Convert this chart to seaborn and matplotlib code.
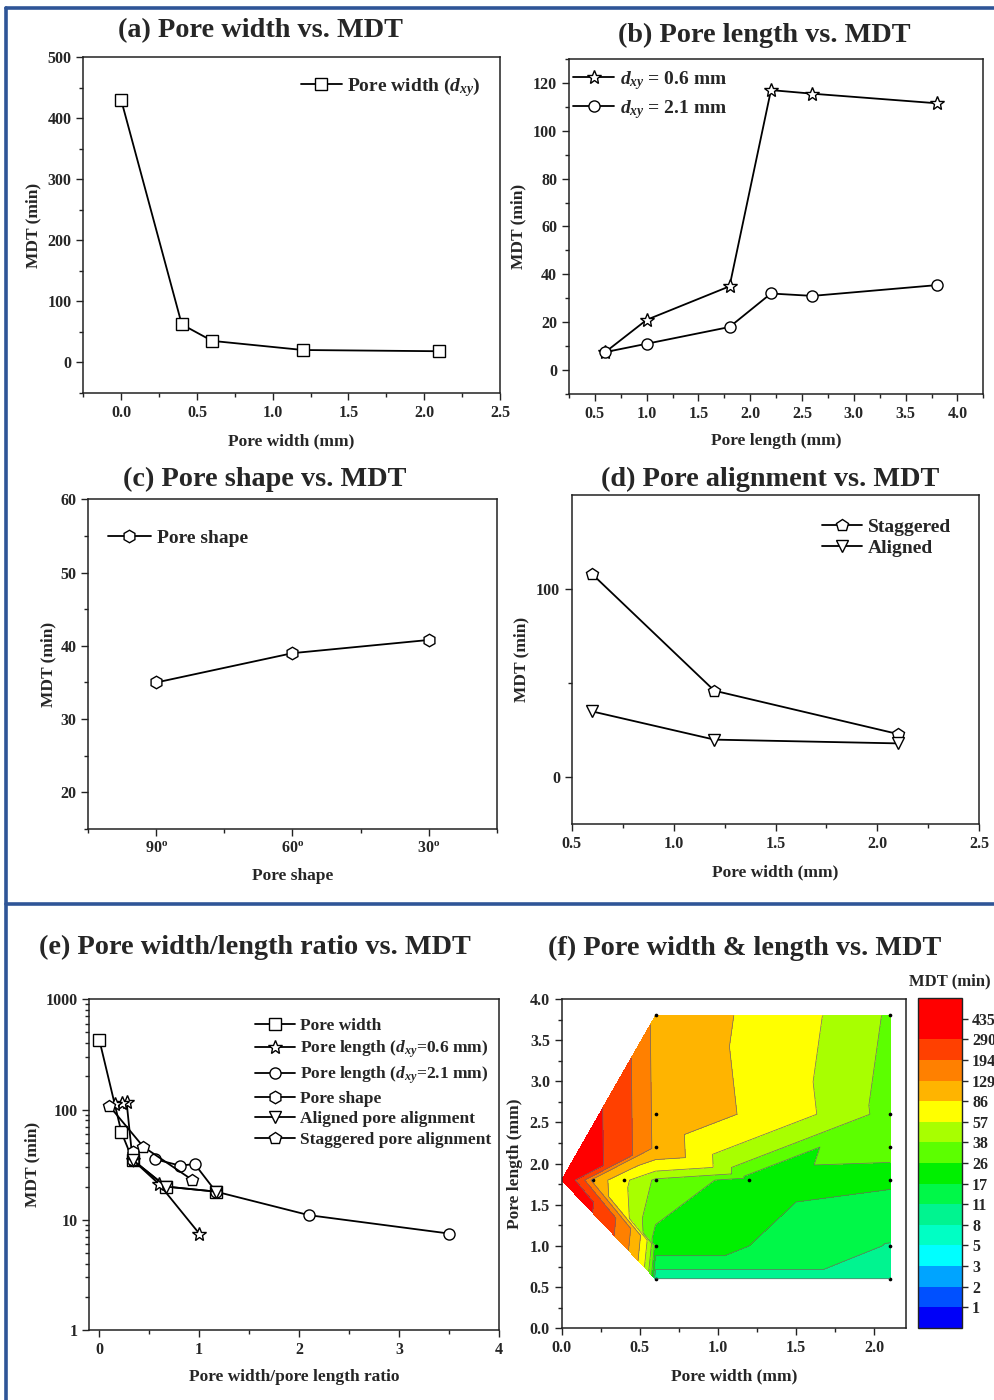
import numpy as np
import pandas as pd
import matplotlib
matplotlib.use('Agg')
import matplotlib.pyplot as plt
import seaborn as sns
from matplotlib.ticker import MultipleLocator, FixedLocator, NullFormatter, LogLocator
from matplotlib.lines import Line2D

# ---------------- data ----------------
a_width = [0.0, 0.4, 0.6, 1.2, 2.1]
a_mdt = [430, 62, 35, 20, 18]

b_length = [0.6, 1.0, 1.8, 2.2, 2.6, 3.8]
b_mdt_06 = [7.5, 21, 35, 117, 115.5, 111.5]
b_mdt_21 = [7.5, 11, 18, 32, 31, 35.5]

c_shape = ['90$^{\\mathbf{o}}$', '60$^{\\mathbf{o}}$', '30$^{\\mathbf{o}}$']
c_mdt = [35, 39, 40.8]

d_width = [0.6, 1.2, 2.1]
d_staggered = [108, 46, 23]
d_aligned = [35, 20, 18]

e_width_ratio = [0.0, 0.222, 0.333, 0.667, 1.167]
e_width_mdt = [430, 62, 35, 20, 18]
e_len06_ratio = [1.0, 0.6, 0.333, 0.273, 0.231, 0.158]
e_len06_mdt = [7.5, 21, 35, 117, 115.5, 111.5]
e_len21_ratio = [3.5, 2.1, 1.167, 0.955, 0.808, 0.553]
e_len21_mdt = [7.5, 11, 18, 32, 31, 35.5]
e_shape_ratio = [0.333, 0.333, 0.333]
e_shape_mdt = [35, 39, 40.8]
e_aligned_ratio = [0.333, 0.667, 1.167]
e_aligned_mdt = [35, 20, 18]
e_stag_ratio = [0.1, 0.44, 0.93]
e_stag_mdt = [108, 46, 23]

f_width = [0.0, 0.2, 0.4, 0.6, 1.2, 2.1, 0.6, 0.6, 0.6, 0.6, 0.6, 2.1, 2.1, 2.1, 2.1, 2.1]
f_length = [1.8, 1.8, 1.8, 1.8, 1.8, 1.8, 0.6, 1.0, 2.2, 2.6, 3.8, 0.6, 1.0, 2.2, 2.6, 3.8]
f_mdt = [430, 108, 62, 35, 20, 18, 7.5, 21, 117, 115.5, 111.5, 7.5, 11, 32, 31, 35.5]
f_levels = [0.5, 1.49, 2.24, 3.36, 5.04, 7.56, 11.34, 17.01, 25.52, 38.28,
            57.42, 86.13, 129.2, 193.8, 290.7, 436, 654]
f_tick_labels = ['1', '2', '3', '5', '8', '11', '17', '26', '38', '57',
                 '86', '129', '194', '290', '435']
f_colors = ['#0000F8', '#0050FF', '#00A4FF', '#00FFFF', '#00FFC4', '#00F490',
            '#00F848', '#00F000', '#5CFF00', '#A8FF00', '#FFFF00', '#FFB400',
            '#FF8000', '#FF4000', '#FF0000', '#FF0000']

# ---------------- style ----------------
sns.set_theme(style='ticks')
plt.rcParams.update({
    'font.family': ['Liberation Serif', 'DejaVu Serif'],
    'font.weight': 'bold',
    'axes.labelweight': 'bold',
    'mathtext.fontset': 'custom',
    'mathtext.rm': 'Liberation Serif:bold',
    'mathtext.it': 'Liberation Serif:italic:bold',
    'mathtext.bf': 'Liberation Serif:bold',
    'axes.edgecolor': '#222222',
    'axes.linewidth': 1.1,
})

W, H = 994, 1400
fig = plt.figure(figsize=(W / 100, H / 100), dpi=100)
fig.patch.set_facecolor('white')

TICK = 11.5
LAB = 12.5


def add_ax(l, t, r, b):
    return fig.add_axes([l / W, 1 - b / H, (r - l) / W, (b - t) / H])


def style(ax, box, xlab, ylab, xl_cy, yl_cx):
    l, t, r, b = box
    ax.tick_params(which='both', direction='out', top=False, right=False,
                   labelsize=TICK, width=1.0, color='#222222')
    ax.tick_params(which='major', length=5)
    ax.tick_params(which='minor', length=3)
    for s in ax.spines.values():
        s.set_visible(True)
        s.set_linewidth(1.1)
    ax.set_xlabel(xlab, fontsize=LAB, fontweight='bold')
    ax.set_ylabel(ylab, fontsize=LAB, fontweight='bold')
    ax.xaxis.set_label_coords(0.5, (b - (xl_cy - 8)) / (b - t))
    ax.yaxis.set_label_coords(((yl_cx + 8) - l) / (r - l), 0.5)
    ax.grid(False)


def line(ax, x, y, marker, label, ms=8):
    sns.lineplot(x=x, y=y, ax=ax, color='black', marker=marker, markersize=ms,
                 markerfacecolor='white', markeredgecolor='black',
                 markeredgewidth=1.0, linewidth=1.3, label=label,
                 sort=False, estimator=None, legend=False)


def legend(ax, anchor, fs, spacing, hl=2.0):
    ax.legend(loc='upper left', bbox_to_anchor=anchor, frameon=False,
              labelspacing=spacing, handlelength=hl,
              handletextpad=0.3, borderaxespad=0, borderpad=0,
              prop={'weight': 'bold', 'size': fs})


# ---------------- (a) ----------------
box_a = (83.3, 57.3, 500, 392.7)
ax = add_ax(*box_a)
line(ax, a_width, a_mdt, 's', 'Pore width ($d_{xy}$)')
ax.set_xlim(-0.25, 2.5)
ax.set_ylim(-50, 500)
ax.xaxis.set_major_locator(FixedLocator([0, 0.5, 1.0, 1.5, 2.0, 2.5]))
ax.xaxis.set_minor_locator(MultipleLocator(0.25))
ax.yaxis.set_major_locator(FixedLocator([0, 100, 200, 300, 400, 500]))
ax.yaxis.set_minor_locator(MultipleLocator(50))
ax.set_xticklabels(['0.0', '0.5', '1.0', '1.5', '2.0', '2.5'])
style(ax, box_a, 'Pore width (mm)', 'MDT (min)', 441, 33)
legend(ax, (0.522, 0.948), 14, 0.3, hl=2.1)

# ---------------- (b) ----------------
box_b = (569, 59, 983.3, 394)
ax = add_ax(*box_b)
line(ax, b_length, b_mdt_06, '*', '$d_{xy}$ = 0.6 mm', ms=10.5)
line(ax, b_length, b_mdt_21, 'o', '$d_{xy}$ = 2.1 mm')
ax.set_xlim(0.25, 4.25)
ax.set_ylim(-10, 130)
ax.xaxis.set_major_locator(FixedLocator(np.arange(0.5, 4.01, 0.5)))
ax.set_xticklabels(['0.5', '1.0', '1.5', '2.0', '2.5', '3.0', '3.5', '4.0'])
ax.xaxis.set_minor_locator(MultipleLocator(0.25))
ax.yaxis.set_major_locator(FixedLocator(np.arange(0, 121, 20)))
ax.yaxis.set_minor_locator(MultipleLocator(10))
style(ax, box_b, 'Pore length (mm)', 'MDT (min)', 441, 518)
legend(ax, (0.01, 0.97), 14, 0.3, hl=2.1)

# ---------------- (c) ----------------
box_c = (88.3, 499.3, 496.7, 829)
ax = add_ax(*box_c)
line(ax, c_shape, c_mdt, 'h', 'Pore shape', ms=9)
ax.set_xlim(-0.5, 2.5)
ax.set_ylim(15, 60)
ax.xaxis.set_minor_locator(MultipleLocator(0.5))
ax.yaxis.set_major_locator(FixedLocator([20, 30, 40, 50, 60]))
ax.yaxis.set_minor_locator(MultipleLocator(5))
style(ax, box_c, 'Pore shape', 'MDT (min)', 876, 48)
legend(ax, (0.048, 0.91), 14, 0.3, hl=2.2)

# ---------------- (d) ----------------
box_d = (571.7, 495, 979.3, 824.3)
ax = add_ax(*box_d)
line(ax, d_width, d_staggered, 'p', 'Staggered', ms=9)
line(ax, d_width, d_aligned, 'v', 'Aligned', ms=9)
ax.set_xlim(0.5, 2.5)
ax.set_ylim(-25, 150)
ax.xaxis.set_major_locator(FixedLocator([0.5, 1.0, 1.5, 2.0, 2.5]))
ax.set_xticklabels(['0.5', '1.0', '1.5', '2.0', '2.5'])
ax.xaxis.set_minor_locator(MultipleLocator(0.25))
ax.yaxis.set_major_locator(FixedLocator([0, 100]))
ax.yaxis.set_minor_locator(FixedLocator([50]))
style(ax, box_d, 'Pore width (mm)', 'MDT (min)', 872, 521)
legend(ax, (0.613, 0.93), 14, 0.2, hl=2.1)

# ---------------- (e) ----------------
box_e = (89.3, 999.3, 499, 1330)
ax = add_ax(*box_e)
line(ax, e_width_ratio, e_width_mdt, 's', 'Pore width')
line(ax, e_len06_ratio, e_len06_mdt, '*', 'Pore length ($d_{xy}$=0.6 mm)', ms=10.5)
line(ax, e_len21_ratio, e_len21_mdt, 'o', 'Pore length ($d_{xy}$=2.1 mm)')
line(ax, e_shape_ratio, e_shape_mdt, 'h', 'Pore shape', ms=9)
line(ax, e_aligned_ratio, e_aligned_mdt, 'v', 'Aligned pore alignment', ms=9)
line(ax, e_stag_ratio, e_stag_mdt, 'p', 'Staggered pore alignment', ms=9)
ax.set_yscale('log')
ax.set_xlim(-0.1, 4.0)
ax.set_ylim(1, 1000)
ax.xaxis.set_major_locator(FixedLocator([0, 1, 2, 3, 4]))
ax.set_xticklabels(['0', '1', '2', '3', '4'])
ax.xaxis.set_minor_locator(MultipleLocator(0.5))
ax.yaxis.set_major_locator(FixedLocator([1, 10, 100, 1000]))
ax.set_yticklabels(['1', '10', '100', '1000'])
ax.yaxis.set_minor_locator(LogLocator(base=10, subs=np.arange(2, 10)))
ax.yaxis.set_minor_formatter(NullFormatter())
style(ax, box_e, 'Pore width/pore length ratio', 'MDT (min)', 1377, 32)
legend(ax, (0.405, 0.943), 12.5, 0.25, hl=2.3)

# ---------------- (f) ----------------
box_f = (561.7, 999, 905.7, 1328.3)
ax = add_ax(*box_f)
cs = ax.tricontourf(f_width, f_length, f_mdt, levels=f_levels, colors=f_colors)
ax.tricontour(f_width, f_length, f_mdt, levels=f_levels, colors='#6a6a6a',
              linewidths=0.5)
sns.scatterplot(x=f_width[1:], y=f_length[1:], ax=ax, color='black', s=7,
                linewidth=0, legend=False)
ax.set_xlim(0, 2.2)
ax.set_ylim(0, 4)
ax.xaxis.set_major_locator(FixedLocator([0, 0.5, 1.0, 1.5, 2.0]))
ax.set_xticklabels(['0.0', '0.5', '1.0', '1.5', '2.0'])
ax.xaxis.set_minor_locator(MultipleLocator(0.25))
ax.yaxis.set_major_locator(FixedLocator(np.arange(0, 4.01, 0.5)))
ax.set_yticklabels(['0.0', '0.5', '1.0', '1.5', '2.0', '2.5', '3.0', '3.5', '4.0'])
ax.yaxis.set_minor_locator(MultipleLocator(0.25))
style(ax, box_f, 'Pore width (mm)', 'Pore length (mm)', 1376, 515)

cax = add_ax(917.7, 998.3, 961.7, 1327.7)
cb = fig.colorbar(cs, cax=cax, ticks=f_levels[1:-1])
cb.set_ticklabels(f_tick_labels)
cb.ax.tick_params(labelsize=TICK, length=4, width=1.0, direction='out')
cb.outline.set_linewidth(1.0)
fig.text(909 / W, 1 - 981 / H, 'MDT (min)', fontsize=12, fontweight='bold',
         ha='left', va='center')

# ---------------- titles ----------------
TF = 20.3
for txt, cx, cy in [('(a) Pore width vs. MDT', 260, 31),
                    ('(b) Pore length vs. MDT', 764, 35),
                    ('(c) Pore shape vs. MDT', 265, 479),
                    ('(d) Pore alignment vs. MDT', 770, 479),
                    ('(e) Pore width/length ratio vs. MDT', 255, 947),
                    ('(f) Pore width & length vs. MDT', 745, 948)]:
    fig.text(cx / W, 1 - cy / H, txt, fontsize=TF, fontweight='bold',
             ha='center', va='center')

# ---------------- blue frame ----------------
blue = '#2F5597'
for (x0, y0, x1, y1) in [(6, 8, 994, 8), (6, 8, 6, 1400), (6, 904, 994, 904)]:
    fig.add_artist(Line2D([x0 / W, x1 / W], [1 - y0 / H, 1 - y1 / H],
                          transform=fig.transFigure, color=blue, lw=2.6))

fig.savefig('out.png', dpi=100, facecolor='white')
